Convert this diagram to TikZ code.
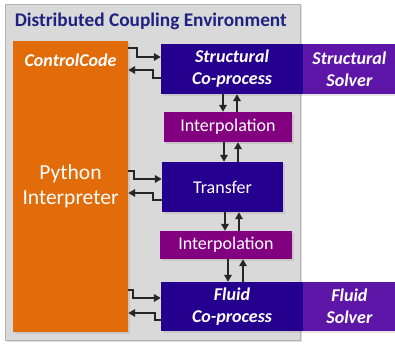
\documentclass[tikz,border=0pt]{standalone}
\usepackage{fontspec}
\setmainfont{Carlito}
\usetikzlibrary{arrows.meta, positioning, calc, shadows}
\definecolor{envgray}{HTML}{D9D9D9}
\definecolor{envline}{HTML}{B3B3B3}
\definecolor{titleblue}{HTML}{1F2280}
\definecolor{ctrlorange}{HTML}{E36C0A}
\definecolor{coproc}{HTML}{25008F}
\definecolor{solver}{HTML}{5E16A8}
\definecolor{interp}{HTML}{820080}
\definecolor{arrowgray}{HTML}{262626}
\tikzset{
  block/.style={
    rectangle, inner sep=0pt, align=center, text=white, fill=#1,
    font=\fontsize{18}{22}\selectfont,
    drop shadow={shadow xshift=1.5pt, shadow yshift=-1.5pt, opacity=0.2}
  },
  link/.style={
    -{Triangle[length=7pt, width=7.5pt]}, line width=2pt, color=arrowgray
  }
}

\begin{document}
\begin{tikzpicture}[x=1pt, y=-1pt,
  bi/.style={font=\fontsize{18}{22}\selectfont\bfseries\itshape},
]
  \useasboundingbox (0,0) rectangle (395,343);

  % Environment
  \node[rectangle, draw=envline, fill=envgray, line width=0.8pt,
        minimum width=295pt, minimum height=336pt,
        drop shadow={shadow xshift=1.5pt, shadow yshift=-1.5pt, opacity=0.25}]
        (env) at (152.5,172) {};
  \node[anchor=base west, text=titleblue, inner sep=0pt,
        font=\fontsize{19.3}{22}\selectfont\bfseries]
        (title) at ($(env.north west)+(10,23)$) {Distributed Coupling Environment};

  % Control code
  \node[block=ctrlorange, minimum width=115pt, minimum height=291pt,
        font=\fontsize{21.5}{24.5}\selectfont,
        label={[anchor=north, yshift=-10pt, text=white, bi]north:ControlCode}]
        (ctrl) at (70.5,186.5) {Python\\Interpreter};

  % Co-processes, interpolation, transfer
  \node[block=coproc, bi, minimum width=142pt, minimum height=50pt]
        (scp) at (232,69) {Structural\\Co-process};
  \node[block=solver, bi, minimum width=92pt, minimum height=50pt, right=0pt of scp]
        (ssol) {Structural\\Solver};
  \node[block=interp, minimum width=128pt, minimum height=30pt]
        (ip1) at (228,127) {Interpolation};
  \node[block=coproc, minimum width=121pt, minimum height=50pt]
        (trf) at (222.5,187) {Transfer};
  \node[block=interp, minimum width=132pt, minimum height=28pt]
        (ip2) at (226,245) {Interpolation};
  \node[block=coproc, bi, minimum width=142pt, minimum height=49pt]
        (fcp) at (232,306.5) {Fluid\\Co-process};
  \node[block=solver, bi, minimum width=92pt, minimum height=49pt, right=0pt of fcp]
        (fsol) {Fluid\\Solver};

  % Control code <-> co-processes
  \draw[link] ([yshift=21pt]scp.west -| ctrl.east) -- ++(9,0) |- ([yshift=12pt]scp.west);
  \draw[link] ([yshift=-9pt]scp.west) -- ++(-8,0) |- ([yshift=-1pt]scp.west -| ctrl.east);
  \draw[link] ([yshift=16pt]trf.west -| ctrl.east) -- ++(6,0) |- ([yshift=8pt]trf.west);
  \draw[link] ([yshift=-13pt]trf.west) -- ++(-9,0) |- ([yshift=-6pt]trf.west -| ctrl.east);
  \draw[link] ([yshift=16.5pt]fcp.west -| ctrl.east) -- ++(5,0) |- ([yshift=8.5pt]fcp.west);
  \draw[link] ([yshift=-13.5pt]fcp.west) -- ++(-6,0) |- ([yshift=-6.5pt]fcp.west -| ctrl.east);

  % Data exchange
  \draw[link] (scp.south -| 223,0) -- (ip1.north -| 223,0);
  \draw[link] (ip1.north -| 237,0) -- (scp.south -| 237,0);
  \draw[link] (ip1.south -| 224,0) -- (trf.north -| 224,0);
  \draw[link] (trf.north -| 238,0) -- (ip1.south -| 238,0);
  \draw[link] (trf.south -| 225,0) -- (ip2.north -| 225,0);
  \draw[link] (ip2.north -| 239,0) -- (trf.south -| 239,0);
  \draw[link] (ip2.south -| 228,0) -- (fcp.north -| 228,0);
  \draw[link] (fcp.north -| 243,0) -- (ip2.south -| 243,0);

\end{tikzpicture}
\end{document}
